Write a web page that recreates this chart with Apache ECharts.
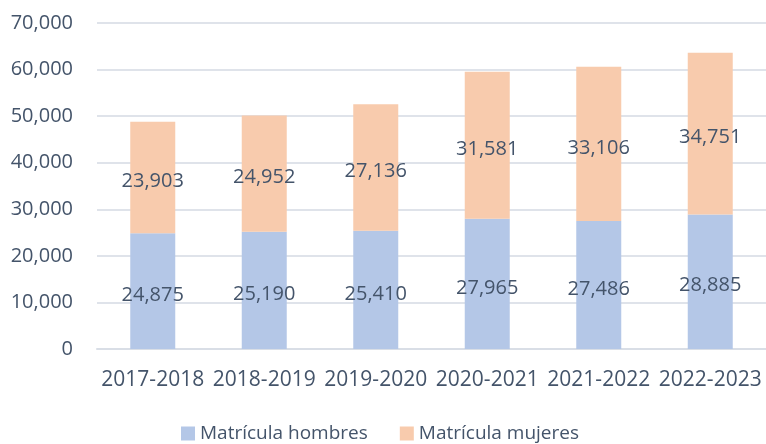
<!DOCTYPE html>
<html>
<head>
<meta charset="utf-8">
<script src="https://cdn.jsdelivr.net/npm/echarts@6/dist/echarts.min.js"></script>
<style>
html,body{margin:0;padding:0;background:#fff;}
#chart{width:766px;height:444px;}
</style>
</head>
<body>
<div id="chart"></div>
<script>
var years = ["2017-2018","2018-2019","2019-2020","2020-2021","2021-2022","2022-2023"];
var hombres = [24875, 25190, 25410, 27965, 27486, 28885];
var mujeres = [23903, 24952, 27136, 31581, 33106, 34751];
var yTicks = [0, 10000, 20000, 30000, 40000, 50000, 60000, 70000];

var textColor = "#44546A";
var fontName = "Open Sans";
var fmt = function (v) { return v.toLocaleString("en-US"); };

var myChart = echarts.init(document.getElementById("chart"));
var option = {
    animation: false,
    textStyle: { fontFamily: fontName },
    color: ["#B4C7E7", "#F8CBAD"],
    legend: {
        top: 419,
        left: 176,
        icon: "rect",
        itemWidth: 14,
        itemHeight: 14,
        itemGap: 32,
        textStyle: { color: textColor, fontSize: 19, fontFamily: fontName },
        data: ["Matrícula hombres", "Matrícula mujeres"]
    },
    grid: {
        left: 97,
        top: 23,
        width: 672,
        height: 326,
        containLabel: false
    },
    xAxis: {
        type: "category",
        data: years,
        axisLine: { show: true, lineStyle: { color: "#D9DEE6", width: 2 } },
        axisTick: { show: false },
        axisLabel: { color: textColor, fontSize: 21, margin: 21, interval: 0, hideOverlap: false, fontFamily: fontName }
    },
    yAxis: {
        type: "value",
        min: yTicks[0],
        max: yTicks[yTicks.length - 1],
        interval: 10000,
        axisLine: { show: false },
        axisTick: { show: false },
        axisLabel: { color: textColor, fontSize: 20, margin: 24, fontFamily: fontName, formatter: fmt },
        splitLine: { show: true, lineStyle: { color: "#DFE3EA", width: 2 } }
    },
    series: [
        {
            name: "Matrícula hombres",
            type: "bar",
            stack: "total",
            barWidth: 45,
            data: hombres,
            label: {
                show: true, position: "inside", offset: [0, 4], color: textColor, fontSize: 20, fontFamily: fontName,
                formatter: function (p) { return fmt(p.value); }
            }
        },
        {
            name: "Matrícula mujeres",
            type: "bar",
            stack: "total",
            barWidth: 45,
            data: mujeres,
            label: {
                show: true, position: "inside", offset: [0, 4], color: textColor, fontSize: 20, fontFamily: fontName,
                formatter: function (p) { return fmt(p.value); }
            }
        }
    ]
};
myChart.setOption(option);
</script>
</body>
</html>
